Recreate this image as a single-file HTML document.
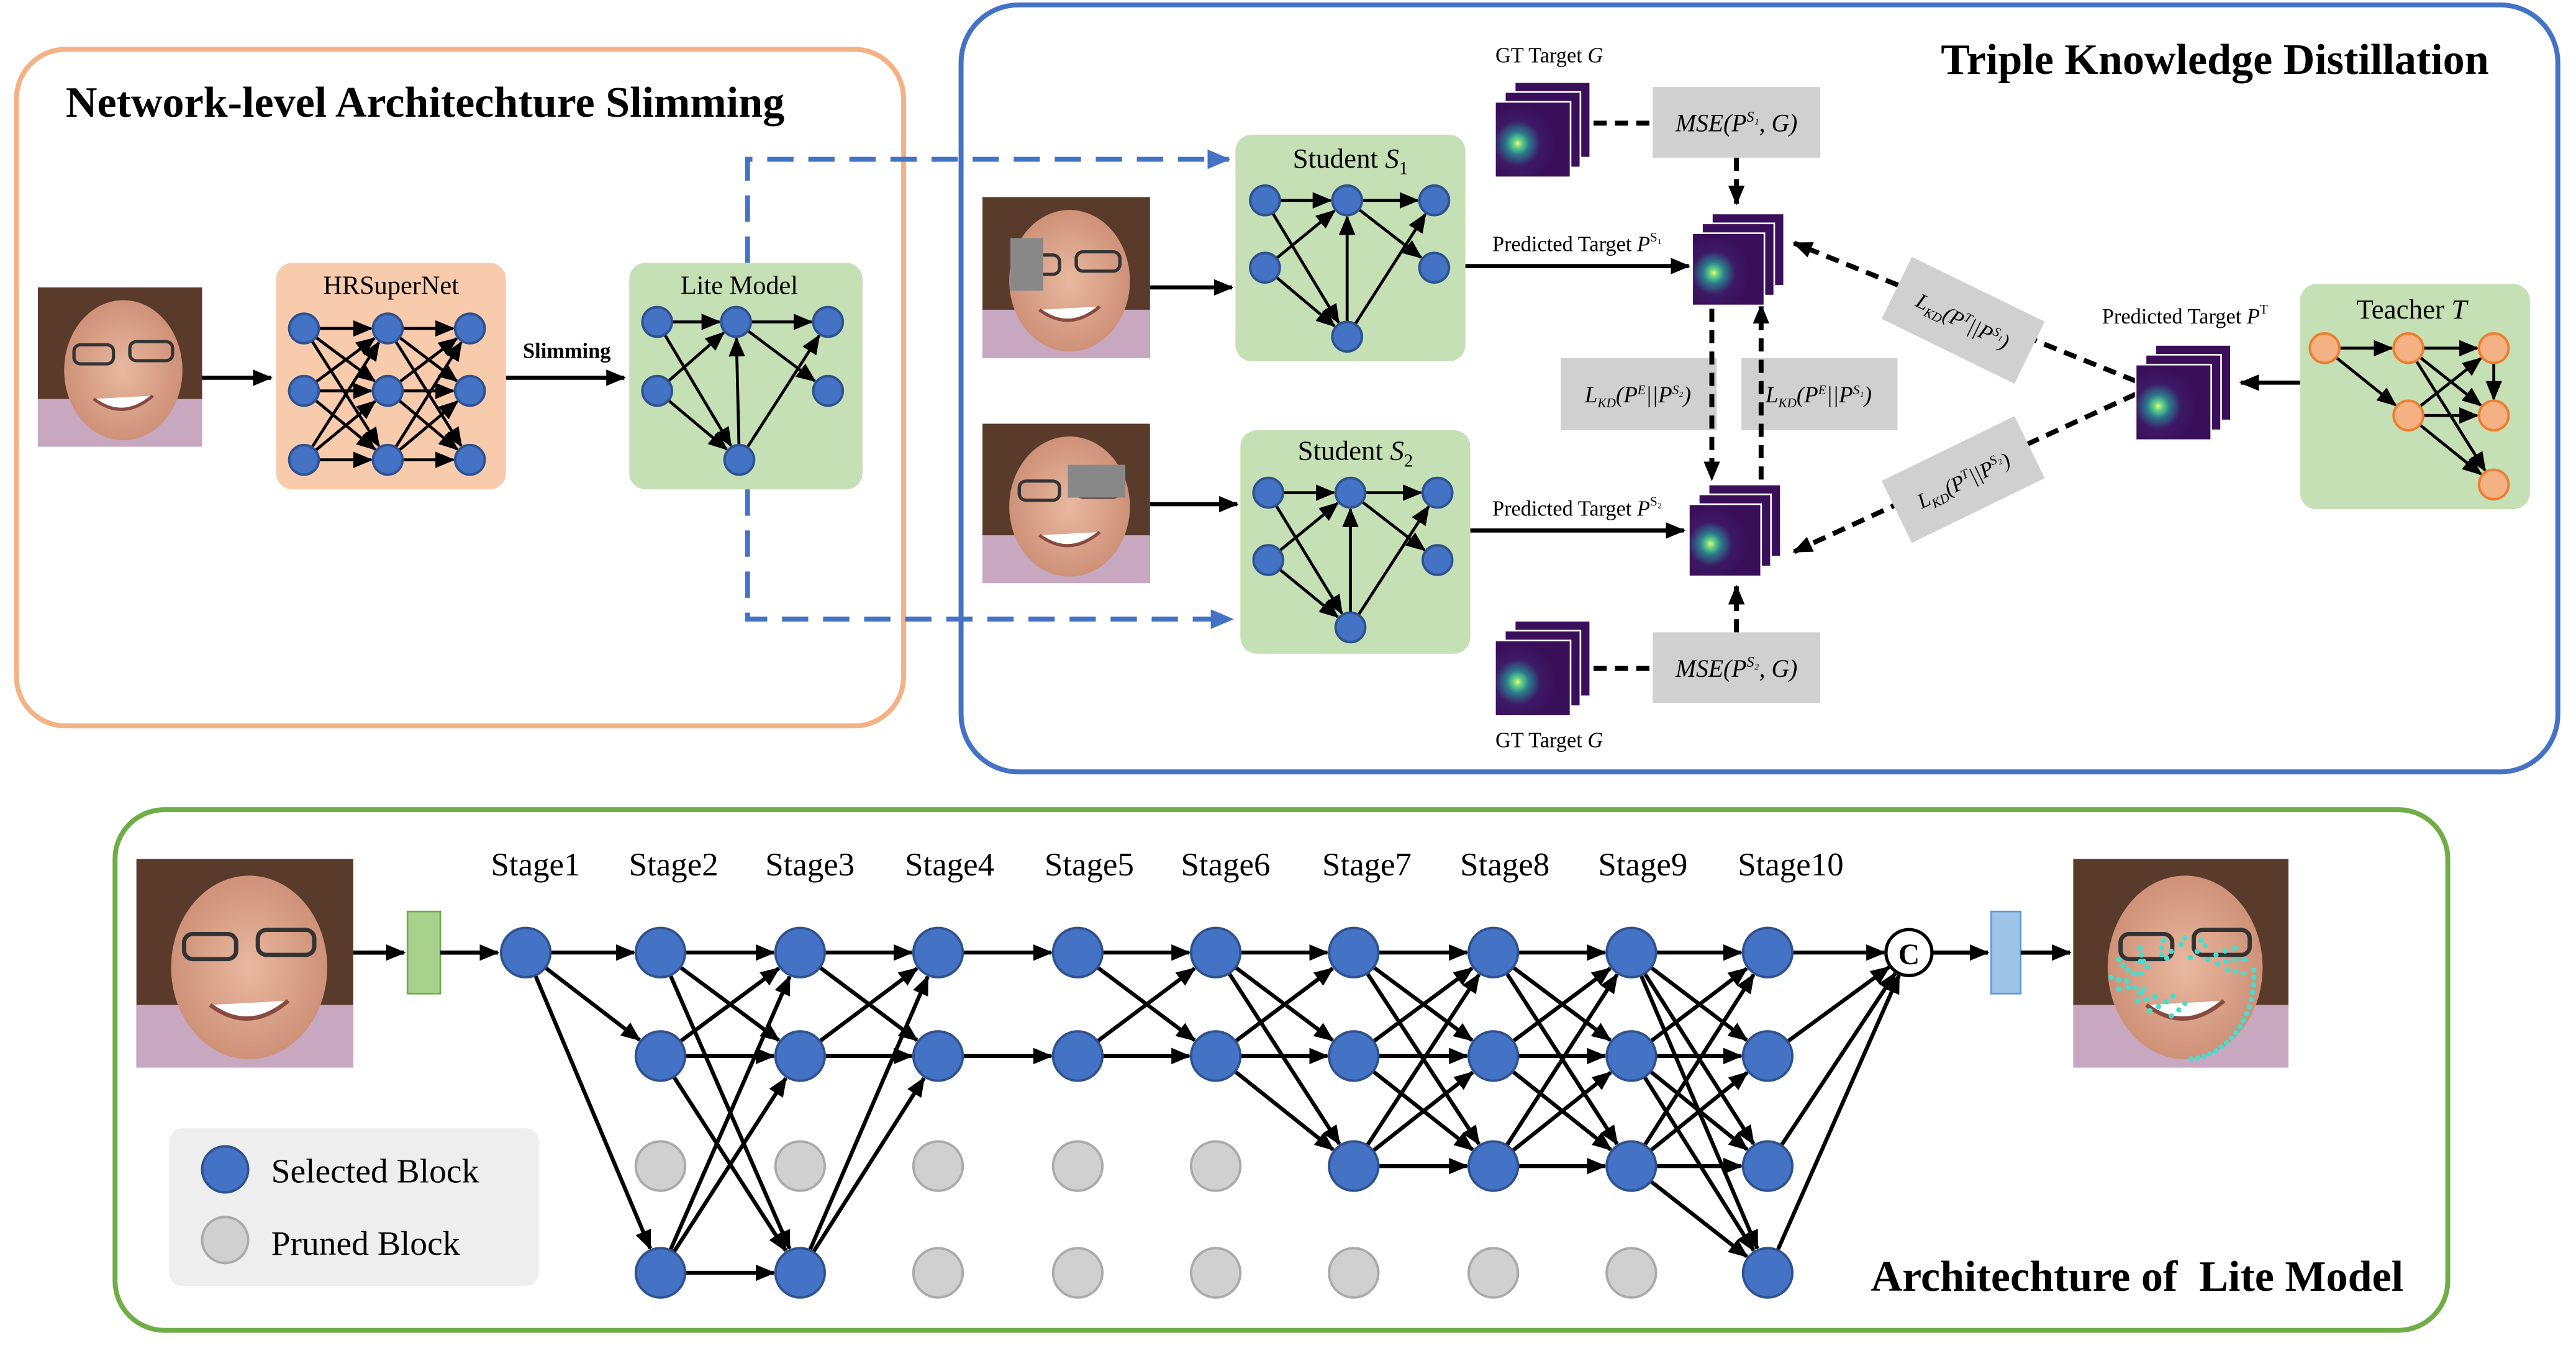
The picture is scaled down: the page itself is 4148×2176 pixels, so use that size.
<!DOCTYPE html>
<html><head><meta charset="utf-8">
<style>
html,body{margin:0;padding:0;background:#fff;}
svg{display:block;}
text{font-family:"Liberation Serif",serif;fill:#000;}
</style></head>
<body>
<svg id="s" width="4148" height="2176" viewBox="0 0 1568 822.6" xmlns="http://www.w3.org/2000/svg">
<defs>
<marker id="ah" markerUnits="userSpaceOnUse" markerWidth="12" markerHeight="10" refX="11" refY="5" orient="auto"><path d="M0,0 L12,5 L0,10 z" fill="#000"/></marker>
<marker id="ab" markerUnits="userSpaceOnUse" markerWidth="14" markerHeight="12" refX="13" refY="6" orient="auto"><path d="M0,0 L14,6 L0,12 z" fill="#4472c4"/></marker>
<radialGradient id="hm" cx="0.3" cy="0.55" r="0.5"><stop offset="0" stop-color="#f3f36a"/><stop offset="0.12" stop-color="#5fd08a"/><stop offset="0.3" stop-color="#2b7a8c"/><stop offset="0.6" stop-color="#3d1a66"/><stop offset="1" stop-color="#3a0f5a"/></radialGradient>
<radialGradient id="skin" cx="0.5" cy="0.5" r="0.6"><stop offset="0" stop-color="#e9b8a0"/><stop offset="1" stop-color="#c88a70"/></radialGradient>
<g id="face">
<rect width="100" height="100" fill="#5a3a2a"/>
<rect y="70" width="100" height="30" fill="#c7a8c0"/>
<ellipse cx="52" cy="52" rx="36" ry="44" fill="url(#skin)"/>
<rect x="22" y="36" width="24" height="12" rx="4" fill="none" stroke="#333" stroke-width="2"/>
<rect x="56" y="34" width="26" height="12" rx="4" fill="none" stroke="#333" stroke-width="2"/>
<path d="M34,70 Q52,84 70,68" fill="#fff" stroke="#8a4a40" stroke-width="2"/>
</g>
</defs>

<rect x="10" y="30" width="540" height="412" rx="30" fill="none" stroke="#f4b183" stroke-width="3"/>
<text x="40" y="71" font-size="26.5" font-weight="bold">Network-level Architechture Slimming</text>
<use href="#face" transform="translate(23,175) scale(1,0.97)"/>
<rect x="168" y="160" width="140" height="138" rx="10" fill="#f8cbad"/>
<text x="238" y="179" font-size="16" text-anchor="middle">HRSuperNet</text>
<text x="345" y="218" font-size="13" font-weight="bold" text-anchor="middle">Slimming</text>
<rect x="383" y="160" width="142" height="138" rx="10" fill="#c5e0b4"/>
<text x="450" y="179" font-size="16" text-anchor="middle">Lite Model</text>
<path d="M455,160 V97 H748" fill="none" stroke="#4472c4" stroke-width="3" stroke-dasharray="16 9" marker-end="url(#ab)"/>
<path d="M455,298 V377 H750" fill="none" stroke="#4472c4" stroke-width="3" stroke-dasharray="16 9" marker-end="url(#ab)"/>

<rect x="585" y="3" width="972" height="467" rx="35" fill="none" stroke="#4472c4" stroke-width="3"/>
<text x="1515" y="45" font-size="26.5" font-weight="bold" text-anchor="end">Triple Knowledge Distillation</text>
<use href="#face" transform="translate(598,120) scale(1.02,0.98)"/>
<rect x="615" y="145" width="20" height="32" fill="#888"/>
<use href="#face" transform="translate(598,258) scale(1.02,0.97)"/>
<rect x="650" y="283" width="35" height="20" fill="#888"/>
<rect x="752" y="82" width="140" height="138" rx="10" fill="#c5e0b4"/>
<text x="822" y="102" font-size="17" text-anchor="middle">Student <tspan font-style="italic">S</tspan><tspan font-size="11" dy="4">1</tspan></text>
<rect x="755" y="262" width="140" height="136" rx="10" fill="#c5e0b4"/>
<text x="825" y="280" font-size="17" text-anchor="middle">Student <tspan font-style="italic">S</tspan><tspan font-size="11" dy="4">2</tspan></text>
<rect x="1400" y="173" width="140" height="137" rx="10" fill="#c5e0b4"/>
<text x="1468" y="194" font-size="17" text-anchor="middle">Teacher <tspan font-style="italic">T</tspan></text>

<text x="960" y="153" font-size="13" text-anchor="middle">Predicted Target <tspan font-style="italic">P</tspan><tspan font-size="8" dy="-6">S₁</tspan></text>
<text x="960" y="314" font-size="13" text-anchor="middle">Predicted Target <tspan font-style="italic">P</tspan><tspan font-size="8" dy="-6">S₂</tspan></text>
<text x="1330" y="197" font-size="13" text-anchor="middle">Predicted Target <tspan font-style="italic">P</tspan><tspan font-size="8" dy="-6">T</tspan></text>
<text x="943" y="38" font-size="13" text-anchor="middle">GT Target <tspan font-style="italic">G</tspan></text>
<text x="943" y="455" font-size="13" text-anchor="middle">GT Target <tspan font-style="italic">G</tspan></text>

<rect x="1006" y="53" width="102" height="43" fill="#d0d0d0"/>
<text x="1057" y="80" font-size="15" text-anchor="middle" font-style="italic">MSE(P<tspan font-size="9" dy="-6">S₁</tspan><tspan dy="6">, G)</tspan></text>
<rect x="1006" y="385" width="102" height="43" fill="#d0d0d0"/>
<text x="1057" y="412" font-size="15" text-anchor="middle" font-style="italic">MSE(P<tspan font-size="9" dy="-6">S₂</tspan><tspan dy="6">, G)</tspan></text>
<rect x="950" y="218" width="95" height="44" fill="#d0d0d0"/>
<text x="997" y="245" font-size="14" text-anchor="middle" font-style="italic">L<tspan font-size="8" dy="3">KD</tspan><tspan dy="-3">(P</tspan><tspan font-size="8" dy="-5">E</tspan><tspan dy="5">||P</tspan><tspan font-size="8" dy="-5">S₂</tspan><tspan dy="5">)</tspan></text>
<rect x="1060" y="218" width="95" height="44" fill="#d0d0d0"/>
<text x="1107" y="245" font-size="14" text-anchor="middle" font-style="italic">L<tspan font-size="8" dy="3">KD</tspan><tspan dy="-3">(P</tspan><tspan font-size="8" dy="-5">E</tspan><tspan dy="5">||P</tspan><tspan font-size="8" dy="-5">S₁</tspan><tspan dy="5">)</tspan></text>

<g stroke="#000" stroke-width="3" fill="none" stroke-dasharray="8 5">
<line x1="970" y1="75" x2="1006" y2="75"/>
<line x1="970" y1="407" x2="1006" y2="407"/>
<line x1="1057" y1="96" x2="1057" y2="124" marker-end="url(#ah)"/>
<line x1="1057" y1="385" x2="1057" y2="357" marker-end="url(#ah)"/>
<line x1="1042" y1="188" x2="1042" y2="292" marker-end="url(#ah)"/>
<line x1="1072" y1="292" x2="1072" y2="186" marker-end="url(#ah)"/>
<line x1="1300" y1="232" x2="1092" y2="148" marker-end="url(#ah)"/>
<line x1="1300" y1="240" x2="1092" y2="336" marker-end="url(#ah)"/>
</g>
<g transform="translate(1195,195) rotate(26)">
<rect x="-45" y="-21" width="90" height="42" fill="#d0d0d0"/>
<text x="0" y="5" font-size="13" text-anchor="middle" font-style="italic">L<tspan font-size="8" dy="3">KD</tspan><tspan dy="-3">(P</tspan><tspan font-size="8" dy="-5">T</tspan><tspan dy="5">||P</tspan><tspan font-size="8" dy="-5">S₁</tspan><tspan dy="5">)</tspan></text></g>
<g transform="translate(1195,292) rotate(-26)">
<rect x="-45" y="-21" width="90" height="42" fill="#d0d0d0"/>
<text x="0" y="5" font-size="13" text-anchor="middle" font-style="italic">L<tspan font-size="8" dy="3">KD</tspan><tspan dy="-3">(P</tspan><tspan font-size="8" dy="-5">T</tspan><tspan dy="5">||P</tspan><tspan font-size="8" dy="-5">S₂</tspan><tspan dy="5">)</tspan></text></g>

<rect x="70" y="493" width="1420" height="317" rx="30" fill="none" stroke="#70ad47" stroke-width="3"/>
<use href="#face" transform="translate(83,523) scale(1.32,1.27)"/>
<use href="#face" transform="translate(1262,523) scale(1.31,1.27)"/>
<g fill="#40e0d0" id="lm"></g>
<rect x="248" y="555" width="20" height="50" fill="#a9d18e" stroke="#70ad47"/>
<rect x="1212" y="555" width="18" height="50" fill="#9dc3e6" stroke="#5b9bd5"/>
<rect x="103" y="687" width="225" height="96" rx="8" fill="#eeeeee"/>
<circle cx="137" cy="712" r="14" fill="#4472c4" stroke="#2f528f" stroke-width="1.5"/>
<text x="165" y="720" font-size="21">Selected Block</text>
<circle cx="137" cy="755" r="14" fill="#d0d0d0" stroke="#aaa" stroke-width="1.5"/>
<text x="165" y="764" font-size="21">Pruned Block</text>
<text x="1463" y="786" font-size="26.5" font-weight="bold" text-anchor="end" xml:space="preserve">Architechture of  Lite Model</text>
<g font-size="20" text-anchor="middle">
<text x="326" y="533">Stage1</text><text x="410" y="533">Stage2</text><text x="493" y="533">Stage3</text><text x="578" y="533">Stage4</text><text x="663" y="533">Stage5</text><text x="746" y="533">Stage6</text><text x="832" y="533">Stage7</text><text x="916" y="533">Stage8</text><text x="1000" y="533">Stage9</text><text x="1090" y="533">Stage10</text>
</g>
<g id="dyn"></g>
<circle cx="1162" cy="580" r="14" fill="#fff" stroke="#000" stroke-width="2"/>
<text x="1162" y="587" font-size="18" font-weight="bold" text-anchor="middle" font-family="Liberation Sans">C</text>
</svg>
<script>
var NS="http://www.w3.org/2000/svg",g=document.getElementById("dyn");
function el(t,a,p){var e=document.createElementNS(NS,t);for(var k in a)e.setAttribute(k,a[k]);(p||g).appendChild(e);return e;}
function line(x1,y1,x2,y2,r1,r2,w){var dx=x2-x1,dy=y2-y1,d=Math.hypot(dx,dy);r1=r1||0;r2=r2||0;
el("line",{x1:x1+dx*r1/d,y1:y1+dy*r1/d,x2:x2-dx*r2/d,y2:y2-dy*r2/d,stroke:"#000","stroke-width":w||2.2,"marker-end":"url(#ah)"});}
var lines=[],circles=[];
function node(x,y,r,c){circles.push([x,y,r,c]);}
var BLUE=["#4472c4","#2f528f"],GRAY=["#d0d0d0","#aaa"],OR=["#f4b183","#ed7d31"];
function net(n,edges,r,c){edges.forEach(function(e){lines.push([n[e[0]][0],n[e[0]][1],n[e[1]][0],n[e[1]][1],r,r+1,1.8]);});n.forEach(function(p){node(p[0],p[1],r,c);});}
var hx=[185,236,286],hy=[200,238,280],hn=[],he=[];
for(var i=0;i<3;i++)for(var j=0;j<3;j++)hn.push([hx[i],hy[j]]);
for(var i=0;i<2;i++)for(var a=0;a<3;a++)for(var b=0;b<3;b++)he.push([i*3+a,(i+1)*3+b]);
net(hn,he,9,BLUE);
var six=function(x0,y0,x1,x2,y1,y2,xm,ym){return [[x0,y0],[x1,y0],[x2,y0],[x0,y1],[x2,y1],[xm,ym]];};
var E=[[0,1],[1,2],[0,5],[3,1],[3,5],[1,4],[5,1],[5,2]];
net(six(400,196,448,504,238,0,450,280),E,9,BLUE);
net(six(770,122,820,873,163,0,820,205),E,9,BLUE);
net(six(772,300,822,875,341,0,822,382),E,9,BLUE);
var tn=[[1415,212],[1466,212],[1518,212],[1466,253],[1518,253],[1518,295]];
net(tn,[[0,1],[1,2],[0,3],[1,4],[1,5],[3,2],[3,4],[3,5],[2,4]],9,OR);
var X=[320,402,487,571,656,740,824,909,993,1076],Y=[580,643,710,775];
var sel=[[0],[0,1,3],[0,1,3],[0,1],[0,1],[0,1],[0,1,2],[0,1,2],[0,1,2],[0,1,2,3]];
for(var s=0;s<10;s++){for(var r=0;r<4;r++){var on=sel[s].indexOf(r)>=0;if(s==0&&!on)continue;node(X[s],Y[r],15,on?BLUE:GRAY);}
 if(s<9)sel[s].forEach(function(a){sel[s+1].forEach(function(b){if(s==3&&a!=b)return;lines.push([X[s],Y[a],X[s+1],Y[b],15,16,2.4]);});});}
sel[9].forEach(function(a){lines.push([1076,Y[a],1162,580,15,15,2.4]);});
lines.push([123,230,165,230,0,0,2.5],[308,230,380,230,0,0,2.5],[700,175,750,175,0,0,2.5],[700,307,753,307,0,0,2.5],
[892,162,1028,162,0,0,2.5],[895,323,1025,323,0,0,2.5],[1400,233,1364,233,0,0,2.5],
[215,580,246,580,0,0,2.5],[268,580,303,580,0,0,2.5],[1176,580,1210,580,0,0,2.5],[1230,580,1260,580,0,0,2.5]);
lines.forEach(function(l){line(l[0],l[1],l[2],l[3],l[4],l[5],l[6]);});
circles.forEach(function(c){el("circle",{cx:c[0],cy:c[1],r:c[2],fill:c[3][0],stroke:c[3][1],"stroke-width":1.5});});
function stack(x,y,s){for(var k=2;k>=0;k--){var gx=x+k*6,gy=y-k*6;el("rect",{x:gx,y:gy,width:s,height:s,fill:k?"#3a0f5a":"url(#hm)",stroke:"#fff","stroke-width":1});}}
stack(910,62,46);stack(1030,142,44);stack(1028,307,44);stack(910,390,46);stack(1300,222,46);
var lm=document.getElementById("lm");
for(var i=0;i<68;i++){var a=i/68*Math.PI*2;var rx=(i<17?42:18+(i%5)*3),ry=(i<17?50:12+(i%4)*4);
el("circle",{cx:1330+Math.cos(a)*rx*(i<17?1:1.5),cy:595+Math.sin(a)*ry,r:1.6},lm);}
</script>
</body></html>
